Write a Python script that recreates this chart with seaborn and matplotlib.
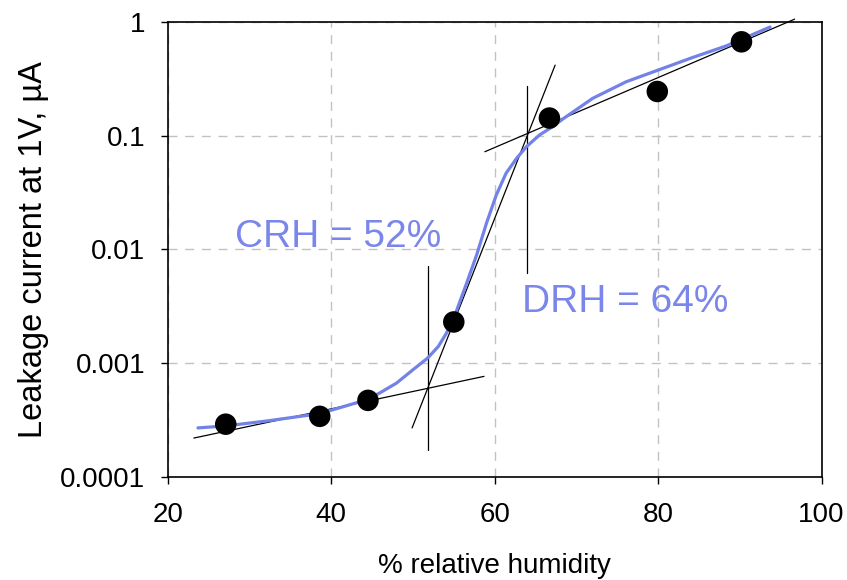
import numpy as np
import pandas as pd
import seaborn as sns
import matplotlib.pyplot as plt

sns.set_theme(style="ticks")
plt.rcParams['font.family'] = ['Liberation Sans', 'DejaVu Sans']
plt.rcParams['text.color'] = 'black'
plt.rcParams['axes.labelcolor'] = 'black'
plt.rcParams['xtick.color'] = 'black'
plt.rcParams['ytick.color'] = 'black'

# measured points
rh = [27.1, 38.6, 44.5, 55.0, 66.7, 79.9, 90.2]
current = [2.9e-4, 3.4e-4, 4.7e-4, 2.3e-3, 0.143, 0.245, 0.67]

# fitted curve
fit_rh = [23.7, 27.1, 32.2, 38.6, 44.0, 45.9, 48.0, 50.0, 51.8, 53.1, 54.1, 55.3, 56.5,
          57.8, 59.0, 60.2, 61.4, 62.7, 63.9, 65.5, 67.1, 68.4, 72.0, 76.1, 79.8, 84.3,
          88.3, 93.7]
fit_current = [2.69e-4, 2.80e-4, 3.10e-4, 3.59e-4, 4.68e-4, 5.44e-4, 6.67e-4, 8.73e-4,
               1.107e-3, 1.397e-3, 1.832e-3, 2.84e-3, 4.88e-3, 8.95e-3, 1.70e-2, 3.01e-2,
               4.68e-2, 6.34e-2, 8.02e-2, 0.1016, 0.1202, 0.1413, 0.2133, 0.2985, 0.3733,
               0.4898, 0.6152, 0.904]

# tangent lines and markers of CRH / DRH
low_rh, low_cur = [23.2, 58.7], [2.19e-4, 7.64e-4]
steep_rh, steep_cur = [49.9, 67.4], [2.69e-4, 0.418]
high_rh, high_cur = [58.8, 96.7], [0.0723, 1.06]
crh_rh, crh_cur = [51.8, 51.8], [7.2e-3, 1.73e-4]
drh_rh, drh_cur = [64.0, 64.0], [0.275, 6.18e-3]

yticks = [1e-4, 1e-3, 1e-2, 1e-1, 1]
ylabels = ["0.0001", "0.001", "0.01", "0.1", "1"]
xticks = [20, 40, 60, 80, 100]

blue = "#7282e6"
txt_blue = "#7b86ea"

fig, ax = plt.subplots(figsize=(8.47, 5.8), dpi=100)
fig.subplots_adjust(left=0.198, right=0.970, top=0.962, bottom=0.178)

ax.set_yscale("log")
ax.set_xlim(20, 100)
ax.set_ylim(1e-4, 1)

for xs, ys in [(low_rh, low_cur), (steep_rh, steep_cur), (high_rh, high_cur),
               (crh_rh, crh_cur), (drh_rh, drh_cur)]:
    ax.plot(xs, ys, color="black", lw=0.9, zorder=3, clip_on=False)

fit = pd.DataFrame({"rh": fit_rh, "cur": fit_current})
sns.lineplot(data=fit, x="rh", y="cur", sort=False, estimator=None,
             color=blue, lw=2.3, ax=ax, zorder=4)

pts = pd.DataFrame({"rh": rh, "cur": current})
sns.scatterplot(data=pts, x="rh", y="cur", color="black", s=240,
                edgecolor="none", ax=ax, zorder=5)

ax.text(28.2, 0.0128, "CRH = 52%", color=txt_blue, fontsize=28, va="center", ha="left")
ax.text(63.3, 0.00344, "DRH = 64%", color=txt_blue, fontsize=28, va="center", ha="left")

ax.set_xticks(xticks)
ax.set_xticklabels([str(t) for t in xticks])
ax.set_yticks(yticks)
ax.set_yticklabels(ylabels)
ax.minorticks_off()
ax.tick_params(labelsize=20, length=5, width=1, color="black")
ax.tick_params(axis="x", pad=13)
ax.tick_params(axis="y", pad=11)
ax.grid(True, color="#c2c2c2", ls=(0, (6.5, 5.5)), lw=1)
for sp in ax.spines.values():
    sp.set_color("black")
    sp.set_linewidth(1.2)

ax.set_xlabel("% relative humidity", fontsize=20, labelpad=18)
ax.set_ylabel("Leakage current at 1V, µA", fontsize=23.5, labelpad=8)

fig.savefig("out.png", dpi=100)
